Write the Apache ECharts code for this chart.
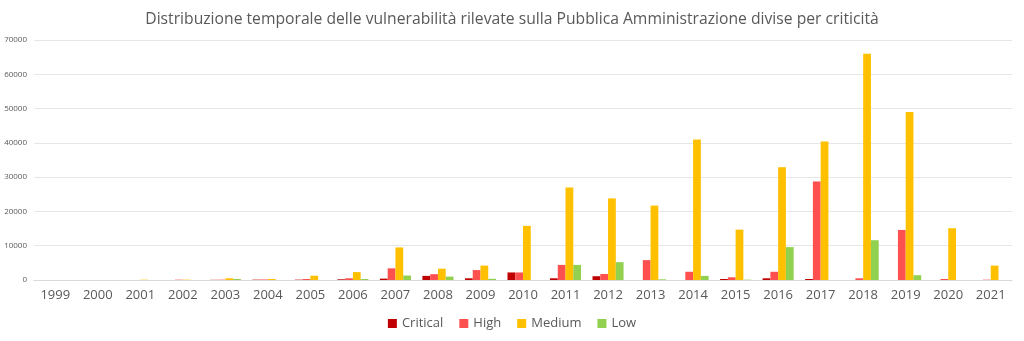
<!DOCTYPE html>
<html><head><meta charset="utf-8">
<script src="https://cdn.jsdelivr.net/npm/echarts@6/dist/echarts.min.js"></script>
<style>html,body{margin:0;padding:0;background:#fff}#c{width:1024px;height:341px}</style>
</head><body><div id="c"></div>
<script>
const years = ['1999','2000','2001','2002','2003','2004','2005','2006','2007','2008','2009','2010','2011','2012','2013','2014','2015','2016','2017','2018','2019','2020','2021'];
const critical = [0,0,0,0,50,100,100,200,400,1200,500,2200,500,1100,0,0,300,500,300,0,0,0,0];
const high = [0,0,0,100,100,150,300,500,3400,1700,2900,2200,4400,1750,5800,2400,800,2400,28700,500,14600,300,100];
const medium = [0,0,100,100,500,300,1250,2300,9500,3300,4200,15800,27000,23800,21700,41000,14700,32900,40400,66000,49000,15100,4200];
const low = [0,0,0,0,300,0,0,300,1300,1000,350,0,4400,5200,200,1200,100,9600,0,11600,1400,0,0];
const font = 'Open Sans';
const mk = (name, data, color) => ({name, type:'bar', data, itemStyle:{color}, barGap:'0%', barCategoryGap:'27%'});
const chart = echarts.init(document.getElementById('c'));
chart.setOption({
  animation:false,
  title:{text:'Distribuzione temporale delle vulnerabilità rilevate sulla Pubblica Amministrazione divise per criticità', left:'center', top:7, textStyle:{fontFamily:font, fontSize:15.7, fontWeight:'normal', color:'#595959'}},
  legend:{bottom:6, left:'center', itemWidth:9, itemHeight:9, itemGap:16, icon:'rect', textStyle:{fontFamily:font, fontSize:13, color:'#595959'}, data:['Critical','High','Medium','Low']},
  grid:{left:34, right:12, top:40, bottom:61},
  xAxis:{type:'category', data:years, axisTick:{show:false}, axisLine:{lineStyle:{color:'#d9d9d9'}}, axisLabel:{fontFamily:font, fontSize:13, color:'#595959', margin:9}},
  yAxis:{type:'value', min:0, max:70000, interval:10000, axisLine:{show:false}, axisTick:{show:false}, splitLine:{lineStyle:{color:'#e6e6e6'}}, axisLabel:{fontFamily:font, fontSize:8, color:'#595959', margin:7, formatter:v=>String(v)}},
  series:[mk('Critical',critical,'#C00000'), mk('High',high,'#FF5050'), mk('Medium',medium,'#FFC000'), mk('Low',low,'#92D050')]
});
</script></body></html>
